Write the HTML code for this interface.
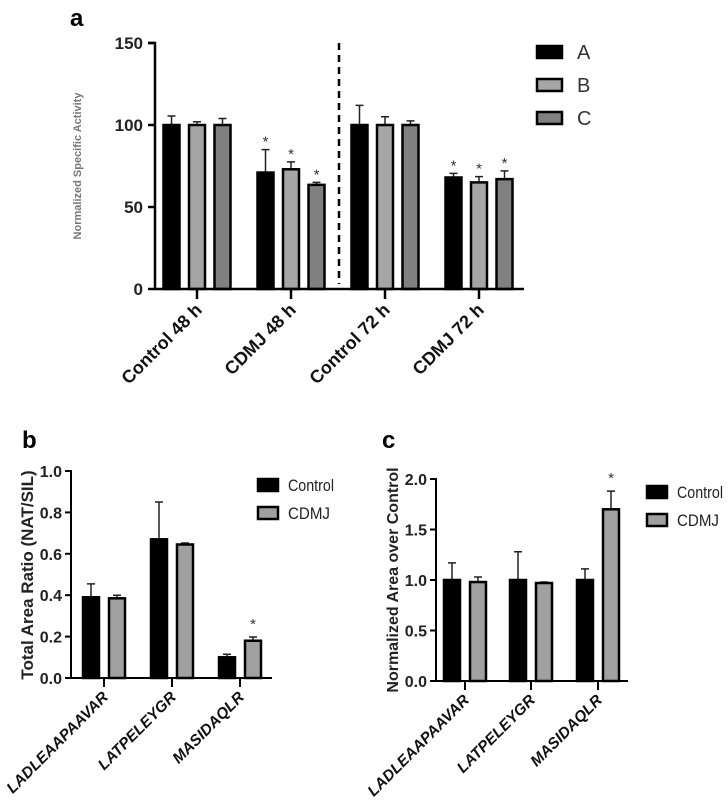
<!DOCTYPE html>
<html><head><meta charset="utf-8"><style>
body{margin:0;background:#fff;}
svg{display:block;font-family:"Liberation Sans",Arial,sans-serif;}
</style></head>
<body>
<svg id="fig" width="728" height="807" viewBox="0 0 728 807"></svg>
<script>
// Panel a data
const aGroups = ["Control 48 h","CDMJ 48 h","Control 72 h","CDMJ 72 h"];
const aSeriesNames = ["A","B","C"];
const aValA = [100,71,100,68];
const aValB = [100,73,100,65];
const aValC = [100,63.5,100,67];
const aErrA = [5.5,14,12,2.5];
const aErrB = [2,4.5,5,3.5];
const aErrC = [4,1.5,2.5,5];
const aSigA = [0,1,0,1];
const aSigB = [0,1,0,1];
const aSigC = [0,1,0,1];
const aTicks = [0,50,100,150];
// Panel b data
const bCats = ["LADLEAAPAAVAR","LATPELEYGR","MASIDAQLR"];
const bControl = [0.39,0.67,0.10];
const bCDMJ = [0.385,0.645,0.18];
const bControlErr = [0.065,0.18,0.015];
const bCDMJErr = [0.015,0.007,0.018];
const bSig = [0,0,1];
const bTicks = ["0.0","0.2","0.4","0.6","0.8","1.0"];
// Panel c data
const cCats = ["LADLEAAPAAVAR","LATPELEYGR","MASIDAQLR"];
const cControl = [1,1,1];
const cCDMJ = [0.98,0.97,1.7];
const cControlErr = [0.17,0.28,0.11];
const cCDMJErr = [0.05,0.01,0.18];
const cSig = [0,0,1];
const cTicks = ["0.0","0.5","1.0","1.5","2.0"];

const NS="http://www.w3.org/2000/svg";
const svg=document.getElementById('fig');
function mk(tag,attrs,parent){const e=document.createElementNS(NS,tag);for(const k in attrs)e.setAttribute(k,attrs[k]);(parent||svg).appendChild(e);return e;}
function txt(s,attrs,parent){const e=mk('text',attrs,parent);e.textContent=s;return e;}

function bar(g,x,w,y0,y1,fill,name){
  const r=mk('rect',{x:x,y:y1,width:w,height:y0-y1,fill:fill,stroke:'#000','stroke-width':2.5},g);
  
  
}
function err(g,cx,ytop,yv,name){
  const p=mk('path',{d:`M${cx},${yv}V${ytop}M${cx-4},${ytop}H${cx+4}`,stroke:'#222','stroke-width':1.5,fill:'none'},g);
  
  
}
function star(g,cx,y,name){
  const t=txt('*',{x:cx,y:y,'text-anchor':'middle','font-size':15,fill:'#333'},g);
  
  
}

// ---------- Panel a ----------
(function(){
  const g=mk('g',{});
  
  
  const X0=155,X1=524,Y0=289,Ytop=43,vmax=150;
  const y=v=>Y0-(Y0-Ytop)*v/vmax;
  const tickX=i=>197+i*94;
  const lt=txt('a',{x:70,y:26,'font-size':24,'font-weight':'bold'},g);
  
  const vals=[aValA,aValB,aValC],errs=[aErrA,aErrB,aErrC],sigs=[aSigA,aSigB,aSigC];
  const fills=['#000','#a6a6a6','#808080'];
  aGroups.forEach((cat,i)=>{
    for(let s=0;s<3;s++){
      const cx=tickX(i)+(s-1)*25.5;
      err(g,cx,y(vals[s][i]+errs[s][i]),y(vals[s][i]),'error-bar-'+aSeriesNames[s].toLowerCase()+'-'+i);
      bar(g,cx-8,16,Y0,y(vals[s][i]),fills[s],'bar-'+aSeriesNames[s].toLowerCase()+'-'+i);
      if(sigs[s][i]) star(g,cx,y(vals[s][i]+errs[s][i])-3,'sig-star-a-'+s+'-'+i);
    }
    mk('line',{x1:tickX(i),x2:tickX(i),y1:Y0,y2:Y0+10,stroke:'#000','stroke-width':2.5},g);
    const t=txt(cat,{x:0,y:0,'font-size':18,'font-weight':'bold','text-anchor':'end',fill:'#111',transform:`translate(${tickX(i)+6},${Y0+22}) rotate(-45)`},g);
    
  });
  const ax=mk('path',{d:`M${X0-7},${Ytop}H${X0}V${Y0}H${X1}`,stroke:'#000','stroke-width':2.5,fill:'none'},g);
  
  aTicks.forEach(v=>{
    mk('line',{x1:X0-7,x2:X0,y1:y(v),y2:y(v),stroke:'#000','stroke-width':2.5},g);
    const t=txt(String(v),{x:X0-12,y:y(v)+6,'font-size':17,'font-weight':'bold','text-anchor':'end',fill:'#222'},g);
    
  });
  const dl=mk('line',{x1:339,x2:339,y1:Ytop,y2:Y0-5,stroke:'#000','stroke-width':2.5,'stroke-dasharray':'7,5'},g);
  
  const yl=txt('Normalized Specific Activity',{x:0,y:0,'font-size':11,'font-weight':'bold','text-anchor':'middle',fill:'#777',transform:`translate(81,166) rotate(-90)`},g);
  
  aSeriesNames.forEach((n,s)=>{
    const cy=52+s*33;
    const r=mk('rect',{x:537,y:cy-6,width:25,height:12,fill:fills[s],stroke:'#000','stroke-width':2.5},g);
    
    const t=txt(n,{x:577,y:cy+7,'font-size':20,fill:'#333'},g);
    
  });
})();

// ---------- Panels b & c ----------
function panel(opts){
  const g=mk('g',{});
  
  
  const {X0,X1,Y0,Ytop,vmax,ticks,cats,ctl,cdmj,ctlE,cdmjE,sig,tickXs}=opts;
  const y=v=>Y0-(Y0-Ytop)*v/vmax;
  const lt=txt(opts.letter,{x:opts.lx,y:448,'font-size':24,'font-weight':'bold'},g);
  
  cats.forEach((c,i)=>{
    const tx=tickXs[i];
    err(g,tx-13,y(ctl[i]+ctlE[i]),y(ctl[i]),'error-bar-control-'+i);
    err(g,tx+13,y(cdmj[i]+cdmjE[i]),y(cdmj[i]),'error-bar-cdmj-'+i);
    bar(g,tx-21,16,Y0,y(ctl[i]),'#000','bar-control-'+i);
    bar(g,tx+5,16,Y0,y(cdmj[i]),'#a0a0a0','bar-cdmj-'+i);
    if(sig[i]) star(g,tx+13,y(cdmj[i]+cdmjE[i])-8,'sig-star-'+i);
    mk('line',{x1:tx,x2:tx,y1:Y0,y2:Y0+9,stroke:'#000','stroke-width':2},g);
    const t=txt(c,{x:0,y:0,'font-size':15.5,'font-weight':'bold','font-style':'italic','text-anchor':'end',fill:'#111',transform:`translate(${tx+5},${Y0+20}) rotate(-45)`},g);
    
  });
  const ax=mk('path',{d:`M${X0-6},${Ytop}H${X0}V${Y0}H${X1}`,stroke:'#000','stroke-width':2,fill:'none'},g);
  
  ticks.forEach(s=>{
    const v=parseFloat(s);
    mk('line',{x1:X0-6,x2:X0,y1:y(v),y2:y(v),stroke:'#000','stroke-width':2},g);
    const t=txt(s,{x:X0-9,y:y(v)+6,'font-size':16,'font-weight':'bold','text-anchor':'end',fill:'#222'},g);
    
  });
  const yl=txt(opts.ytitle,{x:0,y:0,'font-size':opts.yfs,'font-weight':'bold','text-anchor':'middle',fill:'#222',transform:`translate(${opts.ylx},${opts.yly}) rotate(-90)`},g);
  
  [['Control','#000',46],['CDMJ','#a0a0a0',42]].forEach((e,k)=>{
    const cy=opts.legY+k*28;
    const r=mk('rect',{x:opts.legX,y:cy-6,width:20,height:12,fill:e[1],stroke:'#000','stroke-width':2.5},g);
    
    const t=txt(e[0],{x:opts.legX+30,y:cy+6,'font-size':17,fill:'#222',textLength:e[2],lengthAdjust:'spacingAndGlyphs'},g);
    
  });
}
panel({name:'panel-b',letter:'b',lx:22,X0:71,X1:272,Y0:678,Ytop:471,vmax:1.0,ticks:bTicks,cats:bCats,ctl:bControl,cdmj:bCDMJ,ctlE:bControlErr,cdmjE:bCDMJErr,sig:bSig,tickXs:[104,172,240],ytitle:'Total Area Ratio (NAT/SIL)',yfs:17,ylx:33,yly:575,legX:258,legY:485});
panel({name:'panel-c',letter:'c',lx:382,X0:436,X1:628,Y0:681,Ytop:479,vmax:2.0,ticks:cTicks,cats:cCats,ctl:cControl,cdmj:cCDMJ,ctlE:cControlErr,cdmjE:cCDMJErr,sig:cSig,tickXs:[465,531,598],ytitle:'Normalized Area over Control',yfs:16,ylx:398,yly:580,legX:647,legY:492});
</script>
</body></html>
